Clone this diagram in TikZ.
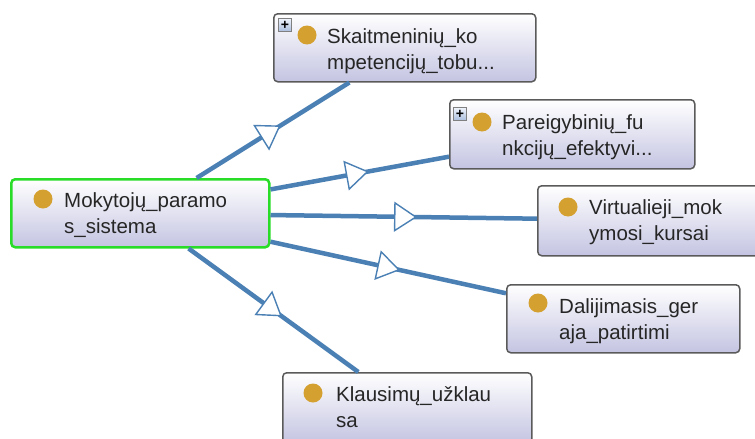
\documentclass[tikz,border=0pt]{standalone}
\usepackage{fontspec}
\setmainfont{Liberation Sans}
\usetikzlibrary{arrows.meta,decorations.markings}
\definecolor{linkc}{RGB}{74,128,180}
\definecolor{dotc}{RGB}{212,160,48}
\definecolor{boxbottom}{RGB}{196,196,226}
\definecolor{boxedge}{RGB}{90,90,90}
\definecolor{focusedge}{RGB}{40,220,40}
\definecolor{plustop}{RGB}{240,244,252}
\definecolor{plusbottom}{RGB}{170,190,222}
\tikzset{
  concept/.style={draw=boxedge, line width=1.5pt, rounded corners=4pt, top color=white, bottom color=boxbottom, anchor=north west, minimum height=68pt, inner sep=0pt},
  focus/.style={concept, draw=focusedge, line width=2.5pt},
  conceptText/.style={anchor=north west, inner sep=0pt, align=left, text=black!85, font=\fontsize{20.5}{26}\selectfont},
  dotmark/.style={circle, fill=dotc, minimum size=19pt, inner sep=0pt},
  plusbox/.style={draw=gray, line width=0.8pt, top color=plustop, bottom color=plusbottom, minimum size=13pt, inner sep=0pt, anchor=north west, font=\fontsize{14}{14}\selectfont\bfseries},
  isa/.style={draw=linkc, line width=4.5pt, postaction={decorate}, decoration={markings, mark=at position 0.55 with {\arrow{Triangle[length=23pt 0,width=30pt 0,fill=white,line width=1.4pt]}}}}
}

\begin{document}
\begin{tikzpicture}[x=1pt, y=-1pt]
	%%%%% FRAME %%%%%
	\clip (0,0) rectangle (755,439);
	
	%%%%% CONCEPTS %%%%%
	\node[focus, minimum width=258pt] (main) at (10,178) {};
	\node[dotmark] (mainD) at (43,199) {};
	\node[conceptText] (mainT) at (64,192) {Mokytojų\_paramo\\s\_sistema};
	
	\node[concept, minimum width=262pt] (skait) at (273,13) {};
	\node[plusbox] (skaitP) at (278,18) {+};
	\node[dotmark] (skaitD) at (307,35) {};
	\node[conceptText] (skaitT) at (327,28) {Skaitmeninių\_ko\\mpetencijų\_tobu...};
	
	\node[concept, minimum width=245pt, minimum height=69pt] (pareig) at (449,99) {};
	\node[plusbox] (pareigP) at (453,107) {+};
	\node[dotmark] (pareigD) at (482,122) {};
	\node[conceptText] (pareigT) at (502,114) {Pareigybinių\_fu\\nkcijų\_efektyvi...};
	
	\node[concept, minimum width=300pt, minimum height=70pt] (virt) at (537,185) {};
	\node[dotmark] (virtD) at (568,207) {};
	\node[conceptText] (virtT) at (589,199) {Virtualieji\_mok\\ymosi\_kursai};
	
	\node[concept, minimum width=233pt] (dalij) at (506,284) {};
	\node[dotmark] (dalijD) at (538,303) {};
	\node[conceptText] (dalijT) at (559,298) {Dalijimasis\_ger\\aja\_patirtimi};
	
	\node[concept, minimum width=249pt, minimum height=70pt] (klaus) at (282,372) {};
	\node[dotmark] (klausD) at (313,393) {};
	\node[conceptText] (klausT) at (336,386) {Klausimų\_užklau\\sa};
	
	%%%%% LINKS %%%%%
	\draw[isa] (main) -- (skait);
	\draw[isa] (main) -- (pareig);
	\draw[isa] (main) -- (virt);
	\draw[isa] (main) -- (dalij);
	\draw[isa] (main) -- (klaus);
\end{tikzpicture}
\end{document}
